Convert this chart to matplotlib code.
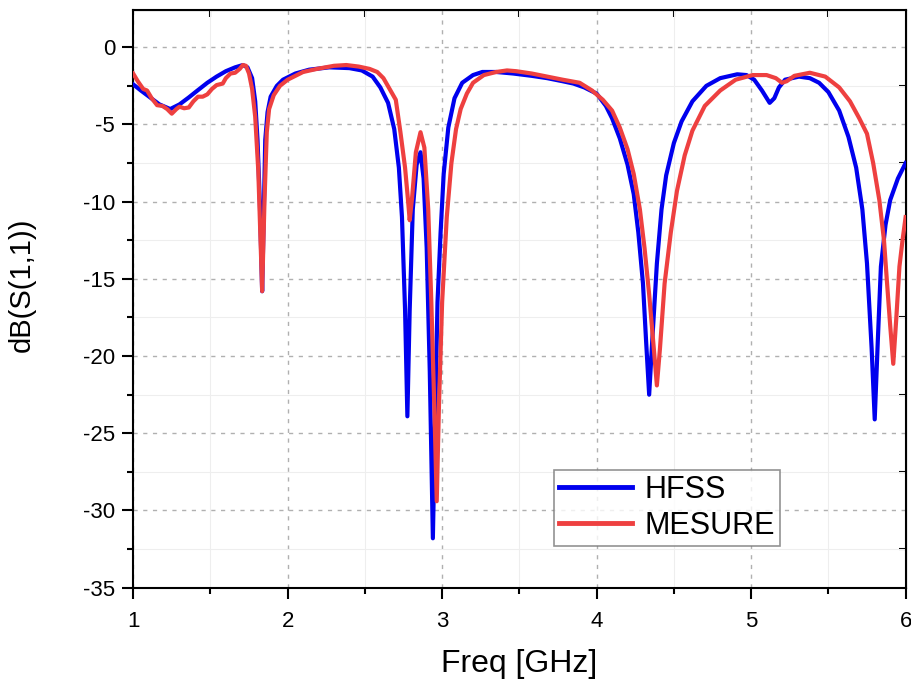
import matplotlib.pyplot as plt
from matplotlib.ticker import MultipleLocator, NullFormatter

plt.rcParams['font.family'] = ['Liberation Sans', 'DejaVu Sans']
plt.rcParams['axes.unicode_minus'] = False

# HFSS simulation
hfss_f = [1.00, 1.05, 1.11, 1.17, 1.24, 1.30, 1.36, 1.41, 1.48, 1.54, 1.60, 1.66,
          1.71, 1.74, 1.77, 1.79, 1.805, 1.82, 1.835, 1.845, 1.855, 1.87, 1.89, 1.93,
          1.97, 2.05, 2.14, 2.27, 2.40, 2.48, 2.55, 2.60, 2.65, 2.69, 2.72, 2.74,
          2.76, 2.775, 2.79, 2.81, 2.835, 2.86, 2.88, 2.90, 2.92, 2.94, 2.955, 2.97,
          2.99, 3.01, 3.04, 3.08, 3.13, 3.20, 3.26, 3.35, 3.46, 3.58, 3.68, 3.78,
          3.85, 3.92, 4.00, 4.06, 4.10, 4.15, 4.20, 4.24, 4.27, 4.30, 4.32, 4.34,
          4.36, 4.39, 4.42, 4.45, 4.50, 4.55, 4.62, 4.71, 4.80, 4.91, 4.97, 5.02,
          5.07, 5.12, 5.15, 5.18, 5.22, 5.31, 5.38, 5.44, 5.50, 5.57, 5.63, 5.68,
          5.72, 5.75, 5.78, 5.80, 5.82, 5.84, 5.87, 5.90, 5.95, 6.00]
hfss_db = [-2.4, -2.8, -3.25, -3.7, -4.0, -3.7, -3.25, -2.85, -2.3, -1.9, -1.55, -1.3,
           -1.15, -1.3, -2.0, -3.5, -6.0, -10.0, -15.8, -11.0, -6.0, -4.2, -3.2, -2.5,
           -2.1, -1.7, -1.45, -1.3, -1.35, -1.5, -1.9, -2.6, -3.6, -5.3, -7.8, -11.0,
           -17.0, -23.9, -17.0, -10.5, -7.6, -6.8, -8.5, -13.0, -21.0, -31.8, -24.0, -16.5,
           -12.0, -8.2, -5.2, -3.3, -2.3, -1.8, -1.6, -1.6, -1.7, -1.85, -2.0, -2.2,
           -2.35, -2.6, -3.0, -3.8, -4.6, -5.9, -7.6, -9.5, -12.0, -15.3, -19.0, -22.5,
           -19.0, -14.0, -10.5, -8.3, -6.2, -4.8, -3.5, -2.5, -2.0, -1.75, -1.8, -2.1,
           -2.8, -3.6, -3.3, -2.6, -2.1, -1.9, -2.0, -2.3, -2.9, -4.1, -5.8, -7.8,
           -10.5, -14.0, -19.5, -24.1, -19.0, -14.2, -11.5, -9.9, -8.5, -7.5]

# measurement
mes_f = [1.00, 1.03, 1.065, 1.09, 1.12, 1.155, 1.19, 1.22, 1.25, 1.28, 1.30, 1.33,
         1.36, 1.39, 1.42, 1.45, 1.48, 1.51, 1.54, 1.58, 1.60, 1.63, 1.66, 1.69,
         1.71, 1.73, 1.75, 1.77, 1.79, 1.81, 1.835, 1.85, 1.865, 1.88, 1.91, 1.95,
         2.00, 2.10, 2.19, 2.30, 2.38, 2.46, 2.53, 2.58, 2.62, 2.66, 2.70, 2.73,
         2.76, 2.78, 2.79, 2.805, 2.83, 2.86, 2.885, 2.91, 2.93, 2.95, 2.965, 2.98,
         3.00, 3.03, 3.06, 3.09, 3.12, 3.16, 3.20, 3.27, 3.35, 3.42, 3.48, 3.58,
         3.68, 3.78, 3.89, 3.97, 4.04, 4.10, 4.15, 4.20, 4.24, 4.28, 4.31, 4.34, 4.37,
         4.39, 4.41, 4.44, 4.48, 4.52, 4.57, 4.62, 4.70, 4.80, 4.90, 5.01, 5.10,
         5.16, 5.20, 5.23, 5.28, 5.38, 5.48, 5.57, 5.64, 5.70, 5.75, 5.79, 5.83,
         5.86, 5.88, 5.90, 5.92, 5.94, 5.96, 5.98, 6.00]
mes_db = [-1.7, -2.2, -2.7, -2.8, -3.3, -3.75, -3.8, -4.0, -4.3, -4.0, -3.85, -3.95,
          -3.9, -3.5, -3.2, -3.2, -3.05, -2.7, -2.45, -2.35, -2.0, -1.7, -1.65, -1.4,
          -1.15, -1.2, -1.7, -2.7, -4.5, -8.0, -15.8, -10.0, -5.5, -4.0, -3.1, -2.5,
          -2.1, -1.6, -1.4, -1.2, -1.15, -1.25, -1.4, -1.6, -2.0, -2.7, -3.4, -5.5,
          -7.8, -10.0, -11.2, -9.8, -6.8, -5.5, -6.5, -10.5, -16.5, -23.5, -29.4, -23.0,
          -16.5, -11.0, -7.5, -5.3, -4.0, -3.0, -2.3, -1.8, -1.6, -1.5, -1.55, -1.7,
          -1.9, -2.1, -2.3, -2.8, -3.4, -4.1, -5.2, -6.6, -8.2, -10.5, -13.0, -16.0, -19.5,
          -21.9, -19.5, -15.3, -12.0, -9.3, -7.0, -5.4, -3.8, -2.8, -2.1, -1.8, -1.8,
          -2.0, -2.3, -2.2, -1.85, -1.65, -1.9, -2.6, -3.5, -4.6, -5.6, -7.5, -9.9,
          -12.5, -15.3, -18.0, -20.5, -17.5, -14.2, -12.5, -11.0]

fig = plt.figure(figsize=(9.12, 6.81), dpi=100)
ax = fig.add_axes([0.146, 0.137, 0.847, 0.848])

ax.plot(hfss_f, hfss_db, color='#0000ee', linewidth=3.0, label='HFSS', zorder=3)
ax.plot(mes_f, mes_db, color='#ee4040', linewidth=3.0, label='MESURE', zorder=3)

ax.set_xlim(1, 6)
ax.set_ylim(-35, 2.4)
ax.xaxis.set_major_locator(MultipleLocator(1))
ax.xaxis.set_minor_locator(MultipleLocator(0.5))
ax.yaxis.set_major_locator(MultipleLocator(5))
ax.yaxis.set_minor_locator(MultipleLocator(2.5))

ax.grid(which='major', color='#b0b0b0', linestyle=(0, (3, 4)), linewidth=1.0)
ax.grid(which='minor', color='#eeeeee', linestyle='-', linewidth=0.8)

ax.tick_params(which='major', direction='out', length=8, width=1.5,
               labelsize=16, pad=5)
ax.tick_params(axis='x', which='major', pad=9)
ax.tick_params(which='minor', direction='out', length=4, width=1.5)
for s in ax.spines.values():
    s.set_linewidth(1.5)

# top / right: minor ticks only, pointing in
top = ax.secondary_xaxis('top')
top.xaxis.set_major_locator(MultipleLocator(1))
top.xaxis.set_minor_locator(MultipleLocator(0.5))
top.tick_params(which='major', length=0, labeltop=False)
top.tick_params(which='minor', direction='in', length=5, width=1.5)
top.xaxis.set_major_formatter(NullFormatter())
right = ax.secondary_yaxis('right')
right.yaxis.set_major_locator(MultipleLocator(5))
right.yaxis.set_minor_locator(MultipleLocator(2.5))
right.tick_params(which='major', length=0, labelright=False)
right.tick_params(which='minor', direction='in', length=5, width=1.5)
right.yaxis.set_major_formatter(NullFormatter())

ax.set_xlabel('Freq [GHz]', fontsize=23, labelpad=12)
ax.set_ylabel('dB(S(1,1))', fontsize=21)
ax.yaxis.set_label_coords(-0.126, 0.524)

leg = ax.legend(loc='lower right', bbox_to_anchor=(0.837, 0.073), fontsize=22,
                frameon=True, fancybox=False, edgecolor='#777777',
                borderpad=0.15, handlelength=2.4, handletextpad=0.4,
                labelspacing=0.2, borderaxespad=0)
leg.get_frame().set_linewidth(1.2)
for h in leg.get_lines():
    h.set_linewidth(3.5)

fig.savefig('out.png', dpi=100)
